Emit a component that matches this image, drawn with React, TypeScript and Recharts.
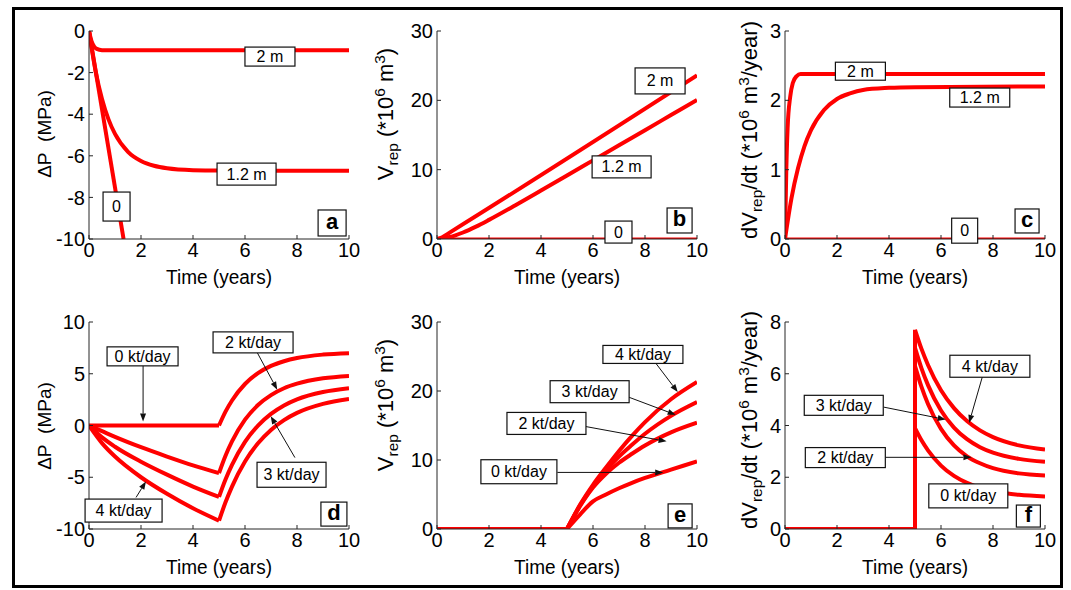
import React from 'react';
import { LineChart, Line, XAxis, YAxis, ReferenceDot, ReferenceLine } from 'recharts';

const FONT = '"Liberation Sans", Arial, Helvetica, sans-serif';
const RED = '#ff0000';
const AXIS = '#262626';
const TICK_STYLE = { fontSize: 20, fill: '#000', fontFamily: FONT };

const X_TICKS = [0, 2, 4, 6, 8, 10];

// (a) pressure change, no injection
const A_T_2M = [0, 0.1, 0.2, 0.3, 0.5, 1, 10];
const A_2M = [0, -0.5, -0.75, -0.86, -0.92, -0.93, -0.93];
const A_T_12M = [0, 0.25, 0.5, 0.75, 1, 1.5, 2, 2.5, 3, 4, 5, 10];
const A_12M = [0, -1.9, -3.27, -4.25, -4.95, -5.81, -6.25, -6.48, -6.6, -6.69, -6.71, -6.72];
const A_T_0 = [0, 1.33];
const A_0 = [0, -10];

// (b) replenished volume
const B_T_2M = [0, 0.2, 0.5, 10];
const B_2M = [0, 0.25, 0.95, 23.6];
const B_T_12M = [0, 0.5, 1, 1.5, 2, 3, 4, 5, 6, 7, 8, 9, 10];
const B_12M = [0, 0.28, 0.94, 1.79, 2.76, 4.84, 6.99, 9.16, 11.34, 13.52, 15.7, 17.88, 20.06];
const B_T_0 = [0, 10];
const B_0 = [0, 0];

// (c) replenishment rate
const C_T_2M = [0, 0.05, 0.1, 0.2, 0.3, 0.45, 0.6, 10];
const C_2M = [0, 1.0, 1.6, 2.05, 2.25, 2.35, 2.38, 2.38];
const C_T_12M = [0, 0.25, 0.5, 0.75, 1, 1.5, 2, 2.5, 3, 4, 5, 10];
const C_12M = [0, 0.59, 1.02, 1.34, 1.57, 1.86, 2.02, 2.1, 2.15, 2.18, 2.19, 2.2];
const C_T_0 = [0, 10];
const C_0 = [0, 0];

// (d) pressure change with injection, before / after t = 5
const D_T_PRE = [0, 0.5, 1, 2, 3, 4, 5];
const D_T_POST = [5, 5.25, 5.5, 6, 6.5, 7, 7.5, 8, 9, 10];
const D_0_PRE = [0, 0, 0, 0, 0, 0, 0];
const D_0_POST = [0, 1.34, 2.42, 4.01, 5.06, 5.76, 6.21, 6.52, 6.85, 6.99];
const D_2_PRE = [0, -0.55, -1.1, -2.1, -3.0, -3.85, -4.6];
const D_2_POST = [-4.6, -2.92, -1.54, 0.56, 1.98, 2.94, 3.6, 4.04, 4.56, 4.79];
const D_3_PRE = [0, -1.15, -2.05, -3.5, -4.75, -5.9, -6.9];
const D_3_POST = [-6.9, -5.22, -3.81, -1.59, -0.01, 1.12, 1.94, 2.53, 3.24, 3.61];
const D_4_PRE = [0, -1.7, -3.0, -5.0, -6.6, -8.0, -9.2];
const D_4_POST = [-9.2, -7.42, -5.9, -3.48, -1.72, -0.43, 0.52, 1.22, 2.09, 2.56];

// (e) replenished volume with injection
const E_T_BASE = [0, 5];
const E_BASE = [0, 0];
const E_T_POST = [5, 5.5, 6, 6.5, 7, 7.5, 8, 9, 10];
const E_0 = [0, 2.1, 4.0, 5.0, 5.9, 6.7, 7.4, 8.6, 9.8];
const E_2 = [0, 3.3, 6.0, 8.0, 9.6, 10.9, 12.1, 14.0, 15.4];
const E_3 = [0, 3.4, 6.2, 8.5, 10.5, 12.2, 13.8, 16.4, 18.4];
const E_4 = [0, 3.5, 6.4, 8.9, 11.3, 13.5, 15.5, 18.8, 21.3];

// (f) replenishment rate with injection
const F_T_SPIKE = [0, 5, 5];
const F_SPIKE = [0, 0, 7.7];
const F_T_POST = [5, 5.25, 5.5, 6, 6.5, 7, 7.5, 8, 9, 10];
const F_4 = [7.7, 6.96, 6.34, 5.36, 4.67, 4.17, 3.81, 3.55, 3.23, 3.07];
const F_3 = [7.0, 6.21, 5.56, 4.58, 3.92, 3.47, 3.16, 2.95, 2.71, 2.6];
const F_2 = [6.3, 5.49, 4.83, 3.87, 3.23, 2.81, 2.54, 2.35, 2.15, 2.07];
const F_0 = [3.9, 3.43, 3.04, 2.45, 2.05, 1.78, 1.59, 1.47, 1.32, 1.26];

type Pt = { t: number; v: number };
const pts = (ts: number[], vs: number[]): Pt[] => ts.map((t, i) => ({ t, v: vs[i] }));

type Series = { data: Pt[]; curve?: 'linear' | 'monotone'; w?: number };
type Box = { t: number; v: number; w: number; h: number; text: string; bold?: boolean };
type Arrow = { from: [number, number]; to: [number, number] };

const ML = 85;
const MT = 12;
const MR = 12;
const MB = 8;
const PLOT_W = 260;
const YAXIS_W = 50;
const XAXIS_H = 30;

const boxShape = (b: Box) => (p: any) => (
  <g>
    <rect
      x={p.cx - b.w / 2}
      y={p.cy - b.h / 2}
      width={b.w}
      height={b.h}
      fill="#fff"
      stroke="#111"
      strokeWidth={1.2}
    />
    <text
      x={p.cx}
      y={p.cy + (b.bold ? 6 : 5.5)}
      textAnchor="middle"
      fontSize={b.bold ? 22 : 16}
      fontWeight={b.bold ? 700 : 400}
      fontFamily={FONT}
      fill="#000"
    >
      {b.text}
    </text>
  </g>
);

const arrowShape = (p: any) => {
  const { x1, y1, x2, y2 } = p;
  const ang = Math.atan2(y2 - y1, x2 - x1);
  const bx = x2 - 8 * Math.cos(ang);
  const by = y2 - 8 * Math.sin(ang);
  const px = -Math.sin(ang) * 3;
  const py = Math.cos(ang) * 3;
  return (
    <g>
      <line x1={x1} y1={y1} x2={bx} y2={by} stroke="#111" strokeWidth={1} />
      <polygon points={`${x2},${y2} ${bx + px},${by + py} ${bx - px},${by - py}`} fill="#111" />
    </g>
  );
};

const Sub = ({ children }: { children: React.ReactNode }) => (
  <span style={{ fontSize: '0.7em', position: 'relative', top: '0.35em' }}>{children}</span>
);
const Sup = ({ children }: { children: React.ReactNode }) => (
  <span style={{ fontSize: '0.7em', position: 'relative', top: '-0.5em' }}>{children}</span>
);

const DP_LABEL = <>ΔP&nbsp;&nbsp;(MPa)</>;
const V_LABEL = (
  <>
    V<Sub>rep</Sub> (*10<Sup>6</Sup> m<Sup>3</Sup>)
  </>
);
const DV_LABEL = (
  <>
    dV<Sub>rep</Sub>/dt (*10<Sup>6</Sup> m<Sup>3</Sup>/year)
  </>
);

interface PanelCfg {
  left: number;
  top: number;
  plotH: number;
  yDomain: [number, number];
  yTicks: number[];
  lines: Series[];
  boxes: Box[];
  arrows: Arrow[];
  yLabel: React.ReactNode;
  yLabelX: number;
  yLabelY: number;
  yLabelSize: number;
}

function Panel({ cfg }: { cfg: PanelCfg }) {
  const { left, top, plotH } = cfg;
  const width = ML + PLOT_W + MR;
  const height = MT + plotH + XAXIS_H + MB;
  return (
    <>
      <div style={{ position: 'absolute', left: left - ML, top: top - MT }}>
        <LineChart
          width={width}
          height={height}
          margin={{ top: MT, right: MR, bottom: MB, left: ML - YAXIS_W }}
        >
          <XAxis
            type="number"
            dataKey="t"
            domain={[0, 10]}
            ticks={X_TICKS}
            interval={0}
            allowDataOverflow
            tickSize={-4}
            tickMargin={8}
            height={XAXIS_H}
            stroke={AXIS}
            tick={TICK_STYLE}
          />
          <XAxis
            xAxisId="top"
            orientation="top"
            type="number"
            dataKey="t"
            domain={[0, 10]}
            ticks={X_TICKS}
            interval={0}
            tickSize={-4}
            height={0}
            tick={false}
            stroke={AXIS}
          />
          <YAxis
            type="number"
            domain={cfg.yDomain}
            ticks={cfg.yTicks}
            interval={0}
            allowDataOverflow
            tickSize={-4}
            tickMargin={8}
            width={YAXIS_W}
            stroke={AXIS}
            tick={TICK_STYLE}
          />
          <YAxis
            yAxisId="right"
            orientation="right"
            type="number"
            domain={cfg.yDomain}
            ticks={cfg.yTicks}
            interval={0}
            tickSize={-4}
            width={0}
            tick={false}
            stroke={AXIS}
          />
          {cfg.lines.map((s, i) => (
            <Line
              key={`l${i}`}
              data={s.data}
              dataKey="v"
              type={s.curve ?? 'monotone'}
              stroke={RED}
              strokeWidth={s.w ?? 4}
              dot={false}
              activeDot={false}
              isAnimationActive={false}
            />
          ))}
          {cfg.arrows.map((a, i) => (
            <ReferenceLine
              key={`a${i}`}
              segment={[
                { x: a.from[0], y: a.from[1] },
                { x: a.to[0], y: a.to[1] },
              ]}
              shape={arrowShape}
            />
          ))}
          {cfg.boxes.map((b, i) => (
            <ReferenceDot key={`b${i}`} x={b.t} y={b.v} r={1} shape={boxShape(b)} />
          ))}
        </LineChart>
      </div>
      <div
        style={{
          position: 'absolute',
          left: left + PLOT_W / 2,
          top: top + plotH + 38,
          transform: 'translate(-50%, -50%) scale(0.95, 1)',
          fontFamily: FONT,
          fontSize: 20,
          whiteSpace: 'nowrap',
          color: '#000',
        }}
      >
        Time (years)
      </div>
      <div
        style={{
          position: 'absolute',
          left: cfg.yLabelX,
          top: cfg.yLabelY,
          transform: 'translate(-50%, -50%) rotate(-90deg)',
          fontFamily: FONT,
          fontSize: cfg.yLabelSize,
          whiteSpace: 'nowrap',
          color: '#000',
          lineHeight: 1.15,
        }}
      >
        {cfg.yLabel}
      </div>
    </>
  );
}

const PANELS: PanelCfg[] = [
  {
    left: 89,
    top: 31,
    plotH: 208,
    yDomain: [-10, 0],
    yTicks: [-10, -8, -6, -4, -2, 0],
    lines: [
      { data: pts(A_T_2M, A_2M) },
      { data: pts(A_T_12M, A_12M) },
      { data: pts(A_T_0, A_0), curve: 'linear' },
    ],
    boxes: [
      { t: 6.96, v: -1.23, w: 50, h: 19, text: '2 m' },
      { t: 6.06, v: -6.88, w: 59, h: 22, text: '1.2 m' },
      { t: 1.06, v: -8.44, w: 27, h: 29, text: '0' },
      { t: 9.35, v: -9.23, w: 28, h: 26, text: 'a', bold: true },
    ],
    arrows: [],
    yLabel: DP_LABEL,
    yLabelX: 45,
    yLabelY: 134,
    yLabelSize: 19,
  },
  {
    left: 437,
    top: 31,
    plotH: 208,
    yDomain: [0, 30],
    yTicks: [0, 10, 20, 30],
    lines: [
      { data: pts(B_T_2M, B_2M) },
      { data: pts(B_T_12M, B_12M) },
      { data: pts(B_T_0, B_0), curve: 'linear', w: 3 },
    ],
    boxes: [
      { t: 8.58, v: 22.8, w: 50, h: 26, text: '2 m' },
      { t: 7.1, v: 10.4, w: 59, h: 22, text: '1.2 m' },
      { t: 6.98, v: 1.0, w: 27, h: 22, text: '0' },
      { t: 9.33, v: 2.67, w: 25, h: 25, text: 'b', bold: true },
    ],
    arrows: [],
    yLabel: V_LABEL,
    yLabelX: 386,
    yLabelY: 114,
    yLabelSize: 22,
  },
  {
    left: 785,
    top: 31,
    plotH: 208,
    yDomain: [0, 3],
    yTicks: [0, 1, 2, 3],
    lines: [
      { data: pts(C_T_2M, C_2M) },
      { data: pts(C_T_12M, C_12M) },
      { data: pts(C_T_0, C_0), curve: 'linear', w: 3 },
    ],
    boxes: [
      { t: 2.9, v: 2.42, w: 50, h: 18, text: '2 m' },
      { t: 7.49, v: 2.04, w: 60, h: 19, text: '1.2 m' },
      { t: 6.91, v: 0.12, w: 26, h: 25, text: '0' },
      { t: 9.31, v: 0.26, w: 24, h: 24, text: 'c', bold: true },
    ],
    arrows: [],
    yLabel: DV_LABEL,
    yLabelX: 750,
    yLabelY: 130,
    yLabelSize: 22,
  },
  {
    left: 89,
    top: 322,
    plotH: 207,
    yDomain: [-10, 10],
    yTicks: [-10, -5, 0, 5, 10],
    lines: [
      { data: pts(D_T_PRE, D_0_PRE) },
      { data: pts(D_T_POST, D_0_POST) },
      { data: pts(D_T_PRE, D_2_PRE) },
      { data: pts(D_T_POST, D_2_POST) },
      { data: pts(D_T_PRE, D_3_PRE) },
      { data: pts(D_T_POST, D_3_POST) },
      { data: pts(D_T_PRE, D_4_PRE) },
      { data: pts(D_T_POST, D_4_POST) },
    ],
    boxes: [
      { t: 2.06, v: 6.68, w: 71, h: 19, text: '0 kt/day' },
      { t: 6.31, v: 8.03, w: 80, h: 21, text: '2 kt/day' },
      { t: 7.79, v: -4.76, w: 69, h: 25, text: '3 kt/day' },
      { t: 1.33, v: -8.22, w: 77, h: 23, text: '4 kt/day' },
      { t: 9.42, v: -8.56, w: 26, h: 24, text: 'd', bold: true },
    ],
    arrows: [
      { from: [2.08, 5.77], to: [2.08, 0.38] },
      { from: [6.45, 7.14], to: [7.24, 3.46] },
      { from: [7.92, -3.1], to: [6.99, 0.9] },
      { from: [1.81, -6.95], to: [2.19, -5.41] },
    ],
    yLabel: DP_LABEL,
    yLabelX: 45,
    yLabelY: 426,
    yLabelSize: 19,
  },
  {
    left: 437,
    top: 322,
    plotH: 207,
    yDomain: [0, 30],
    yTicks: [0, 10, 20, 30],
    lines: [
      { data: pts(E_T_BASE, E_BASE), curve: 'linear' },
      { data: pts(E_T_POST, E_0) },
      { data: pts(E_T_POST, E_2) },
      { data: pts(E_T_POST, E_3) },
      { data: pts(E_T_POST, E_4) },
    ],
    boxes: [
      { t: 7.92, v: 25.3, w: 80, h: 18, text: '4 kt/day' },
      { t: 5.87, v: 19.9, w: 79, h: 22, text: '3 kt/day' },
      { t: 4.21, v: 15.3, w: 79, h: 22, text: '2 kt/day' },
      { t: 3.15, v: 8.3, w: 76, h: 24, text: '0 kt/day' },
      { t: 9.35, v: 1.9, w: 24, h: 24, text: 'e', bold: true },
    ],
    arrows: [
      { from: [8.38, 24.2], to: [9.26, 19.84] },
      { from: [7.38, 19.1], to: [9.18, 16.55] },
      { from: [5.72, 14.85], to: [8.83, 12.7] },
      { from: [4.63, 8.2], to: [8.7, 8.2] },
    ],
    yLabel: V_LABEL,
    yLabelX: 386,
    yLabelY: 405,
    yLabelSize: 22,
  },
  {
    left: 785,
    top: 322,
    plotH: 207,
    yDomain: [0, 8],
    yTicks: [0, 2, 4, 6, 8],
    lines: [
      { data: pts(F_T_SPIKE, F_SPIKE), curve: 'linear' },
      { data: pts(F_T_POST, F_4) },
      { data: pts(F_T_POST, F_3) },
      { data: pts(F_T_POST, F_2) },
      { data: pts(F_T_POST, F_0) },
    ],
    boxes: [
      { t: 7.88, v: 6.29, w: 80, h: 22, text: '4 kt/day' },
      { t: 2.26, v: 4.78, w: 79, h: 20, text: '3 kt/day' },
      { t: 2.32, v: 2.76, w: 80, h: 20, text: '2 kt/day' },
      { t: 7.05, v: 1.28, w: 79, h: 24, text: '0 kt/day' },
      { t: 9.36, v: 0.5, w: 24, h: 22, text: 'f', bold: true },
    ],
    arrows: [
      { from: [7.59, 5.88], to: [7.08, 4.1] },
      { from: [3.8, 4.71], to: [6.18, 4.23] },
      { from: [3.86, 2.77], to: [7.17, 2.77] },
    ],
    yLabel: DV_LABEL,
    yLabelX: 750,
    yLabelY: 420,
    yLabelSize: 22,
  },
];

export default function App() {
  return (
    <div
      style={{
        position: 'absolute',
        left: 0,
        top: 0,
        width: 1071,
        height: 590,
        background: '#fff',
        overflow: 'hidden',
      }}
    >
      <div
        style={{
          position: 'absolute',
          left: 12,
          top: 7,
          width: 1051,
          height: 581,
          border: '3px solid #000',
          boxSizing: 'border-box',
        }}
      />
      {PANELS.map((cfg, i) => (
        <Panel key={i} cfg={cfg} />
      ))}
    </div>
  );
}
